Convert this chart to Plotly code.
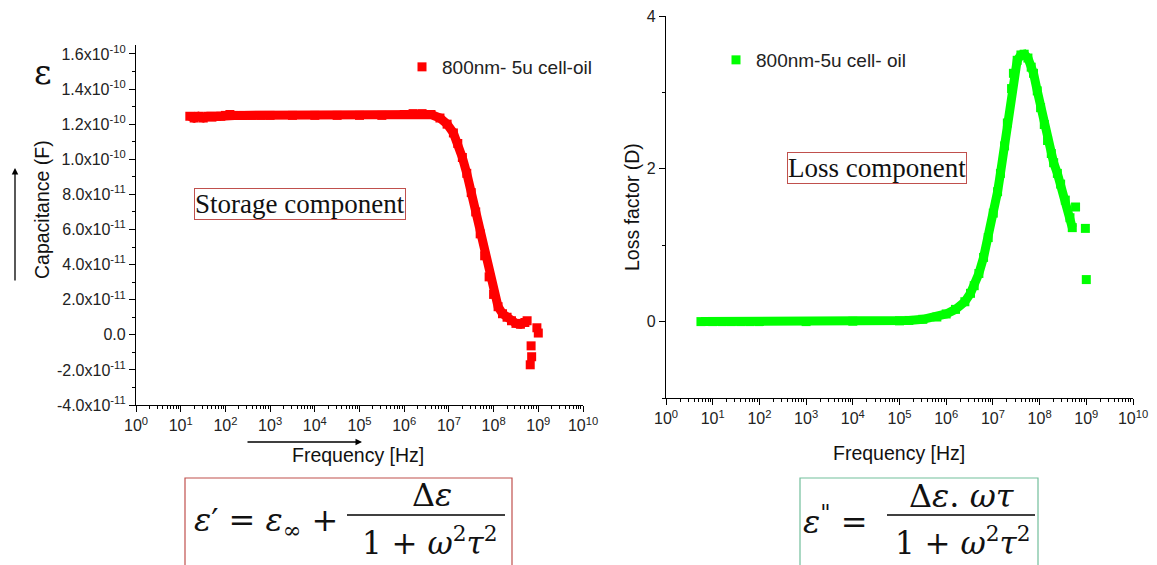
import plotly.graph_objects as go

W, H = 1157, 565

# ---------------- data ----------------
cap_freq = [16, 20, 25, 32, 40, 50, 63, 79, 100, 126, 158, 251, 398, 631,
            1.0e3, 3.16e3, 1.0e4, 3.16e4, 1.0e5, 3.16e5, 1.0e6, 1.58e6, 2.51e6,
            3.98e6, 6.31e6, 9.12e6, 1.26e7, 1.58e7, 2.0e7, 2.51e7, 3.16e7,
            3.98e7, 5.01e7, 6.31e7, 7.94e7, 1.0e8, 1.26e8, 1.58e8, 2.0e8,
            2.51e8, 3.16e8, 3.98e8, 5.01e8, 5.62e8]
cap_val = [12.45e-11, 12.35e-11, 12.45e-11, 12.35e-11, 12.45e-11, 12.40e-11,
           12.45e-11, 12.45e-11, 12.50e-11, 12.55e-11, 12.50e-11, 12.50e-11,
           12.50e-11, 12.50e-11, 12.50e-11, 12.50e-11, 12.50e-11, 12.50e-11,
           12.50e-11, 12.50e-11, 12.55e-11, 12.60e-11, 12.60e-11, 12.55e-11,
           12.35e-11, 12.00e-11, 11.50e-11, 10.90e-11, 10.10e-11, 9.20e-11,
           8.10e-11, 7.00e-11, 5.75e-11, 4.50e-11, 3.30e-11, 2.30e-11,
           1.60e-11, 1.20e-11, 1.00e-11, 0.80e-11, 0.65e-11, 0.60e-11,
           0.70e-11, 0.80e-11]
cap_out_freq = [6.9e8, 7.1e8, 6.6e8, 9.3e8, 1.0e9]
cap_out_val = [-0.63e-11, -1.25e-11, -1.71e-11, 0.40e-11, 0.10e-11]

loss_freq = [5.6, 10, 16, 25, 40, 63, 100, 1.0e3, 1.0e4, 1.0e5, 1.58e5, 3.16e5,
             6.31e5, 1.0e6, 1.58e6, 2.51e6, 3.31e6, 3.98e6, 5.01e6, 6.31e6,
             7.94e6, 1.02e7, 1.26e7, 1.45e7, 1.78e7, 2.04e7, 2.51e7, 2.75e7,
             3.31e7, 3.98e7, 4.68e7, 5.62e7, 6.61e7, 7.41e7, 8.91e7, 1.05e8,
             1.26e8, 1.48e8, 1.78e8, 2.0e8, 2.4e8, 2.82e8, 3.55e8, 4.47e8, 5.01e8]
loss_val = [0.0, 0.0, 0.0, 0.0, 0.0, 0.0, 0.0, 0.0, 0.005, 0.01, 0.015, 0.03,
            0.06, 0.10, 0.16, 0.26, 0.37, 0.47, 0.63, 0.84, 1.10, 1.42, 1.70,
            1.94, 2.30, 2.60, 3.05, 3.25, 3.42, 3.49, 3.50, 3.45, 3.33, 3.25,
            3.02, 2.80, 2.58, 2.37, 2.20, 2.08, 1.94, 1.80, 1.59, 1.36, 1.23]
loss_out_freq = [5.89e8, 9.55e8, 1.0e9]
loss_out_val = [1.50, 1.22, 0.55]

x_tickvals = [1e0, 1e1, 1e2, 1e3, 1e4, 1e5, 1e6, 1e7, 1e8, 1e9, 1e10]
x_ticktext = ['10<sup>0</sup>', '10<sup>1</sup>', '10<sup>2</sup>', '10<sup>3</sup>',
              '10<sup>4</sup>', '10<sup>5</sup>', '10<sup>6</sup>', '10<sup>7</sup>',
              '10<sup>8</sup>', '10<sup>9</sup>', '10<sup>10</sup>']
x_minor = [k * d for d in x_tickvals[:-1] for k in range(2, 10)]

cap_tickvals = [-4e-11, -2e-11, 0.0, 2e-11, 4e-11, 6e-11, 8e-11, 1.0e-10,
                1.2e-10, 1.4e-10, 1.6e-10]
cap_ticktext = ['-4.0x10<sup>-11</sup>', '-2.0x10<sup>-11</sup>', '0.0',
                '2.0x10<sup>-11</sup>', '4.0x10<sup>-11</sup>', '6.0x10<sup>-11</sup>',
                '8.0x10<sup>-11</sup>', '1.0x10<sup>-10</sup>', '1.2x10<sup>-10</sup>',
                '1.4x10<sup>-10</sup>', '1.6x10<sup>-10</sup>']
loss_tickvals = [0, 2, 4]
loss_ticktext = ['0', '2', '4']
loss_minor = [-1, 1, 3]

RED = '#ff0000'
GREEN = '#00ff00'
SANS = 'Liberation Sans, Arial, sans-serif'
SERIF = 'Liberation Serif, Times New Roman, serif'
MATH = 'DejaVu Serif, serif'


def px(x):
    return x / W


def py(y):
    return 1 - y / H


fig = go.Figure()

fig.add_trace(go.Scatter(x=cap_freq, y=cap_val, mode='lines',
                         line=dict(color=RED, width=9), xaxis='x', yaxis='y',
                         showlegend=False, hoverinfo='skip'))
fig.add_trace(go.Scatter(x=cap_freq + cap_out_freq, y=cap_val + cap_out_val,
                         mode='markers', name='800nm- 5u cell-oil',
                         marker=dict(symbol='square', size=9, color=RED),
                         xaxis='x', yaxis='y', legend='legend'))
fig.add_trace(go.Scatter(x=loss_freq, y=loss_val, mode='lines',
                         line=dict(color=GREEN, width=9), xaxis='x2', yaxis='y2',
                         showlegend=False, hoverinfo='skip'))
fig.add_trace(go.Scatter(x=loss_freq + loss_out_freq, y=loss_val + loss_out_val,
                         mode='markers', name='800nm-5u cell- oil',
                         marker=dict(symbol='square', size=9, color=GREEN),
                         xaxis='x2', yaxis='y2', legend='legend2'))

axis_common = dict(showline=True, linecolor='black', linewidth=1.3,
                   ticks='outside', ticklen=6, tickwidth=1, tickcolor='black',
                   showgrid=False, zeroline=False, automargin=False,
                   tickfont=dict(family=SANS, size=16, color='#222222'))

xminor = dict(tickmode='array', tickvals=x_minor, ticks='outside', ticklen=3,
              tickwidth=1, tickcolor='black', showgrid=False)

fig.update_layout(
    width=W, height=H,
    margin=dict(l=0, r=0, t=0, b=0),
    paper_bgcolor='white', plot_bgcolor='white',
    xaxis=dict(type='log', domain=[px(136), px(583)], range=[0, 10], anchor='y',
               tickmode='array', tickvals=x_tickvals, ticktext=x_ticktext,
               minor=xminor, **axis_common),
    yaxis=dict(domain=[py(405), py(45)], range=[-4e-11, 1.651e-10], anchor='x',
               tickmode='array', tickvals=cap_tickvals, ticktext=cap_ticktext,
               minor=dict(tickmode='linear', tick0=-4e-11, dtick=1e-11,
                          ticks='outside', ticklen=3, tickwidth=1,
                          tickcolor='black', showgrid=False),
               **axis_common),
    xaxis2=dict(type='log', domain=[px(666), px(1133)], range=[0, 10], anchor='y2',
                tickmode='array', tickvals=x_tickvals, ticktext=x_ticktext,
                minor=xminor, **axis_common),
    yaxis2=dict(domain=[py(398), py(16)], range=[-1, 4], anchor='x2',
                tickmode='array', tickvals=loss_tickvals, ticktext=loss_ticktext,
                minor=dict(tickmode='array', tickvals=loss_minor, ticks='outside',
                           ticklen=3, tickwidth=1, tickcolor='black',
                           showgrid=False),
                **axis_common),
    legend=dict(x=px(402), y=py(67), xanchor='left', yanchor='middle',
                bgcolor='rgba(0,0,0,0)',
                font=dict(family=SANS, size=19, color='#222222')),
    legend2=dict(x=px(716), y=py(60), xanchor='left', yanchor='middle',
                 bgcolor='rgba(0,0,0,0)',
                 font=dict(family=SANS, size=19, color='#222222')),
)

ann = []


def text(t, x, y, size, family=SANS, angle=0, **kw):
    ann.append(dict(text=t, x=px(x), y=py(y), xref='paper', yref='paper',
                    xanchor='center', yanchor='middle', showarrow=False,
                    textangle=angle,
                    font=dict(family=family, size=size, color='#111111'), **kw))


# axis titles
text('Capacitance (F)', 42, 210, 19.5, angle=-90)
text('Frequency [Hz]', 358, 455, 19.5)
text('Loss factor (D)', 632, 207, 19.5, angle=-90)
text('Frequency [Hz]', 899, 453, 19.5)
text('ε', 43, 72, 34, family=MATH)

# boxed labels
text('Storage component', 299.5, 204.5, 27, family=SERIF,
     bordercolor='#c0504d', borderwidth=1, borderpad=0, bgcolor='white')
text('Loss component', 876.5, 168, 27, family=SERIF,
     bordercolor='#c0504d', borderwidth=1, borderpad=0, bgcolor='white')

# arrows
ann.append(dict(x=px(15), y=py(168), xref='paper', yref='paper', ax=0, ay=114,
                text='', showarrow=True, arrowhead=2, arrowsize=1,
                arrowwidth=1.3, arrowcolor='black'))
ann.append(dict(x=px(362), y=py(442), xref='paper', yref='paper', ax=-116, ay=0,
                text='', showarrow=True, arrowhead=2, arrowsize=1,
                arrowwidth=1.3, arrowcolor='black'))

# formulas
text('<i>ε</i>′ = <i>ε</i><sub>∞</sub> +', 266, 522, 32, family=MATH)
text('Δ<i>ε</i>', 432, 495, 32, family=MATH)
text('1 + <i>ω</i><sup>2</sup><i>τ</i><sup>2</sup>', 430, 541, 31, family=MATH)
text('<i>ε</i><sup>"</sup> =', 835, 520, 32, family=MATH)
text('Δ<i>ε</i>. <i>ωτ</i>', 962, 496, 32, family=MATH)
text('1 + <i>ω</i><sup>2</sup><i>τ</i><sup>2</sup>', 962, 541, 31, family=MATH)

fig.update_layout(annotations=ann)

shapes = [
    dict(type='rect', xref='paper', yref='paper', x0=px(185), x1=px(512),
         y0=-0.05, y1=py(478), line=dict(color='#c0504d', width=1.2)),
    dict(type='rect', xref='paper', yref='paper', x0=px(800), x1=px(1038),
         y0=-0.05, y1=py(478), line=dict(color='#72bf9c', width=1.2)),
    dict(type='line', xref='paper', yref='paper', x0=px(347), x1=px(505),
         y0=py(515), y1=py(515), line=dict(color='black', width=1.6)),
    dict(type='line', xref='paper', yref='paper', x0=px(887), x1=px(1035),
         y0=py(515), y1=py(515), line=dict(color='black', width=1.6)),
]
fig.update_layout(shapes=shapes)

fig.write_html('out.html')
